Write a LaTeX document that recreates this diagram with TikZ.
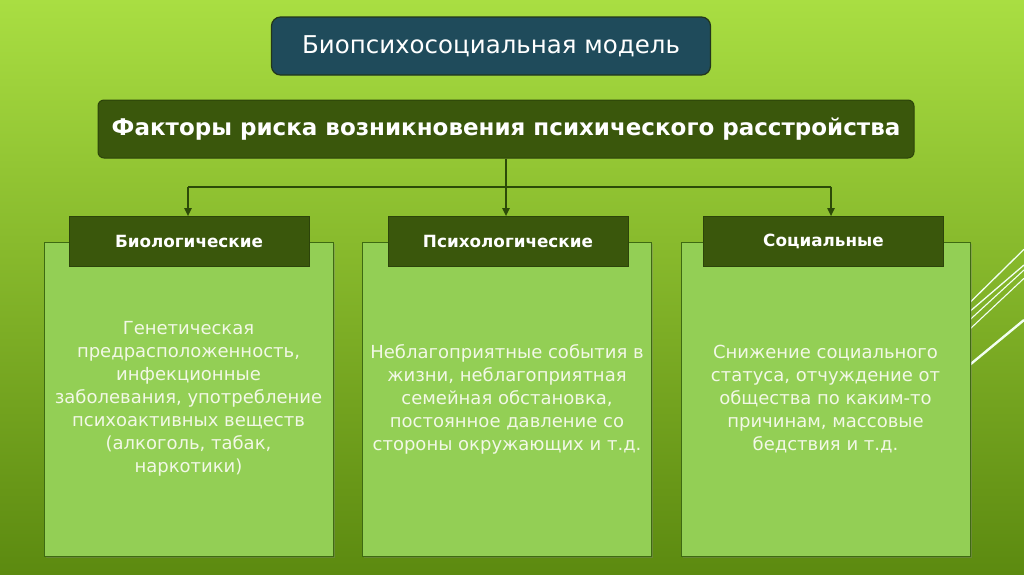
\documentclass[tikz,border=0pt]{standalone}
\usepackage{fontspec}
\setmainfont{DejaVu Sans}
\usetikzlibrary{arrows.meta,shadows}
\definecolor{bgtop}{HTML}{A9DE42}
\definecolor{bgmid}{HTML}{90C534}
\definecolor{bgbot}{HTML}{5C8A10}
\definecolor{panelfill}{HTML}{93CF55}
\definecolor{panelborder}{HTML}{3E6A12}
\definecolor{darkolive}{HTML}{3A570C}
\definecolor{darkborder}{HTML}{2C440A}
\definecolor{tealbox}{HTML}{1F4B5B}
\definecolor{tealborder}{HTML}{22361C}
\definecolor{textlight}{HTML}{F2F8E6}
\definecolor{connc}{HTML}{2C4A08}
\begin{document}
\begin{tikzpicture}[x=1pt,y=-1pt,
  panel/.style={draw=panelborder, fill=panelfill, line width=0.9pt,
    minimum width=289pt, minimum height=314pt, inner sep=0pt,
    align=center, text=textlight,
    font=\fontsize{18}{23}\selectfont,
    drop shadow={shadow xshift=1.5pt, shadow yshift=-1.5pt, opacity=0.35}},
  headbox/.style={fill=darkolive, draw=darkborder, line width=0.6pt,
    minimum width=240pt, minimum height=50pt, inner sep=0pt,
    text=white, font=\fontsize{16.8}{18}\selectfont\bfseries},
  mainbox/.style={fill=darkolive, draw=darkborder, line width=1pt,
    rounded corners=6pt, minimum width=816pt, minimum height=58pt,
    inner sep=0pt, text=white, font=\fontsize{23}{26}\selectfont\bfseries},
  topbox/.style={fill=tealbox, draw=tealborder, line width=1.2pt,
    rounded corners=9pt, minimum width=439pt, minimum height=58pt,
    inner sep=0pt, text=white, font=\fontsize{24.5}{27}\selectfont},
  conn/.style={draw=connc, line width=1.8pt},
  tip/.style={-{Triangle[length=8pt,width=7pt]}},
  deco/.style={draw=white!95!green, line cap=butt}
]
\useasboundingbox (0,0) rectangle (1024,574);
\shade[top color=bgtop, middle color=bgmid, bottom color=bgbot] (0,0) rectangle (1024,574);

% decorative lines on the right
\draw[deco, line width=1.3pt] (940,331.9) -- (1024,249.3);
\draw[deco, line width=1.3pt] (940,337.0) -- (1024,265);
\draw[deco, line width=1.1pt] (940,347.2) -- (1024,270);
\draw[deco, line width=1.1pt] (940,357.1) -- (1024,278.3);
\draw[deco, line width=2.4pt] (940,389.4) -- (1024,320);

% panels
\node[panel] (p1) at (188.5,399) {Генетическая\\предрасположенность,\\инфекционные\\заболевания, употребление\\психоактивных веществ\\(алкоголь, табак,\\наркотики)};
\node[panel] (p2) at (507,399) {Неблагоприятные события в\\жизни, неблагоприятная\\семейная обстановка,\\постоянное давление со\\стороны окружающих и т.д.};
\node[panel] (p3) at (825.5,399) {Снижение социального\\статуса, отчуждение от\\общества по каким-то\\причинам, массовые\\бедствия и т.д.};

% header boxes
\node[headbox] (l1) at (189,241.5) {Биологические};
\node[headbox] (l2) at (508,241.5) {Психологические};
\node[headbox] (l3) at (823.5,241.5) {Социальные};

% main boxes
\node[mainbox] (main) at (506,129) {Факторы риска возникновения психического расстройства};
\node[topbox] (top) at (491,46) {Биопсихосоциальная модель};

% connectors
\coordinate (j) at (506,186.7);
\coordinate (jl) at (188,186.7);
\coordinate (jr) at (831,186.7);
\draw[conn] (jl) -- (jr);
\draw[conn,tip] (main.south) -- (main.south |- l2.north);
\draw[conn,tip] (jl) -- (jl |- l1.north);
\draw[conn,tip] (jr) -- (jr |- l3.north);
\end{tikzpicture}
\end{document}
